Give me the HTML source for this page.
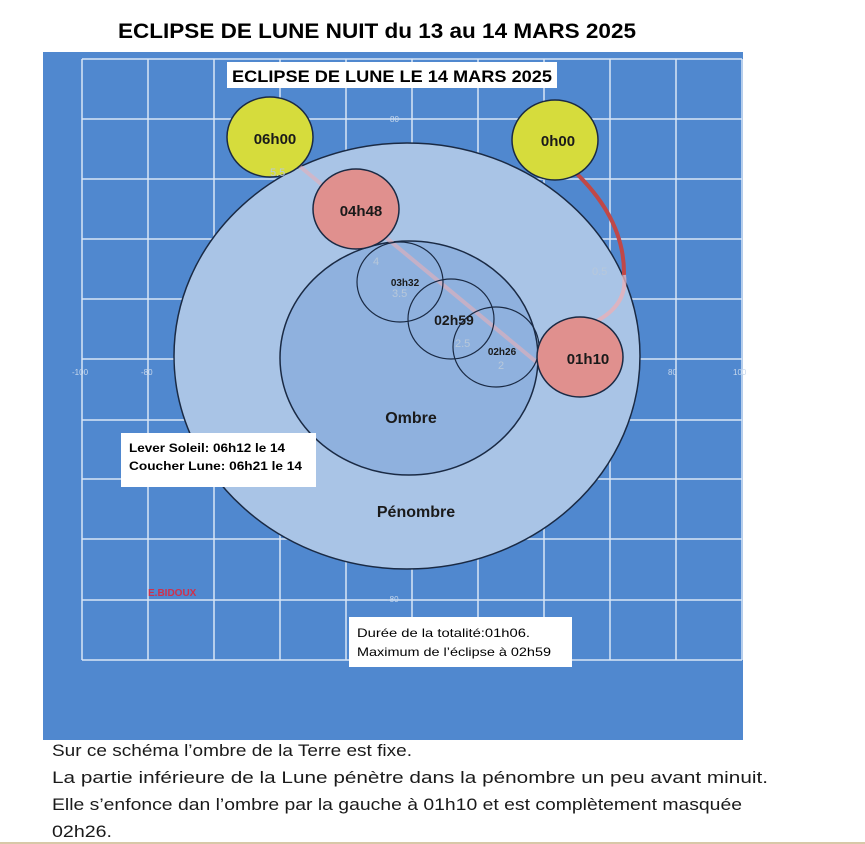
<!DOCTYPE html>
<html><head><meta charset="utf-8"><style>
html,body{margin:0;padding:0;background:#fff;}
svg{display:block;font-family:"Liberation Sans",sans-serif;}
</style></head><body>
<svg width="865" height="844" viewBox="0 0 865 844" xmlns="http://www.w3.org/2000/svg">
<rect width="865" height="844" fill="#fff"/>
<text x="377" y="38" text-anchor="middle" font-size="21" font-weight="bold" textLength="518" lengthAdjust="spacingAndGlyphs">ECLIPSE DE LUNE  NUIT du 13 au 14 MARS 2025</text>
<rect x="43" y="52" width="700" height="688" fill="#5088cf"/>
<g stroke="#d8e6f6" stroke-width="1.5" fill="none">
<path d="M82 59V660M148 59V660M214 59V660M280 59V660M346 59V660M412 59V660M478 59V660M544 59V660M610 59V660M676 59V660M742 59V660"/>
<path d="M82 59H742M82 119H742M82 179H742M82 239H742M82 299H742M82 359H742M82 420H742M82 479H742M82 539H742M82 600H742M82 660H742"/>
</g>
<g font-size="8" fill="#c8d8ec">
<text x="72" y="375">-100</text><text x="141" y="375">-80</text><text x="668" y="375">80</text><text x="733" y="375">100</text>
<text x="390" y="122">80</text><text x="387" y="602">-80</text>
</g>
<ellipse cx="407" cy="356" rx="233" ry="213" fill="#a9c4e6" stroke="#1a2a44" stroke-width="1.5"/>
<ellipse cx="409" cy="358" rx="129" ry="117" fill="#8fb1de" stroke="#1a2a44" stroke-width="1.5"/>
<path d="M280 150 L540 365" stroke="#e8b0b8" stroke-width="4" opacity="0.6"/>
<path d="M575 172 Q625 220 624 275" stroke="#c04848" stroke-width="4" fill="none"/>
<path d="M624 275 Q628 305 595 322" stroke="#e8b0b8" stroke-width="4" fill="none" opacity="0.8"/>
<g fill="none" stroke="#1a2a44" stroke-width="1.2">
<ellipse cx="400" cy="282" rx="43" ry="40"/>
<ellipse cx="451" cy="319" rx="43" ry="40"/>
<ellipse cx="496" cy="347" rx="43" ry="40"/>
</g>
<g stroke="#1a2a44" stroke-width="1.5">
<ellipse cx="270" cy="137" rx="43" ry="40" fill="#d6dc3c"/>
<ellipse cx="555" cy="140" rx="43" ry="40" fill="#d6dc3c"/>
<ellipse cx="356" cy="209" rx="43" ry="40" fill="#e0908e"/>
<ellipse cx="580" cy="357" rx="43" ry="40" fill="#e0908e"/>
</g>
<g font-size="11" fill="#b8c8da"><text x="270" y="176">5.5</text><text x="373" y="265">4</text><text x="392" y="297">3.5</text><text x="455" y="347">2.5</text><text x="498" y="369">2</text><text x="592" y="275">0.5</text></g>
<g font-weight="bold" fill="#1a1a1a" text-anchor="middle">
<text x="275" y="144" font-size="15">06h00</text>
<text x="558" y="146" font-size="15">0h00</text>
<text x="361" y="216" font-size="15">04h48</text>
<text x="588" y="364" font-size="15">01h10</text>
<text x="405" y="286" font-size="10">03h32</text>
<text x="454" y="325" font-size="14">02h59</text>
<text x="502" y="355" font-size="10">02h26</text>
<text x="411" y="423" font-size="16">Ombre</text>
<text x="416" y="517" font-size="16">Pénombre</text>
</g>
<rect x="227" y="62" width="330" height="26" fill="#fff"/>
<text x="392" y="82" text-anchor="middle" font-size="17" font-weight="bold" textLength="320" lengthAdjust="spacingAndGlyphs">ECLIPSE DE LUNE LE 14 MARS 2025</text>
<rect x="121" y="433" width="195" height="54" fill="#fff"/>
<text x="129" y="452" font-size="12" font-weight="bold" textLength="156" lengthAdjust="spacingAndGlyphs">Lever Soleil: 06h12 le 14</text>
<text x="129" y="470" font-size="12" font-weight="bold" textLength="173" lengthAdjust="spacingAndGlyphs">Coucher Lune: 06h21 le 14</text>
<text x="148" y="596" font-size="10" font-weight="bold" fill="#d0304c">E.BIDOUX</text>
<rect x="349" y="617" width="223" height="50" fill="#fff"/>
<text x="357" y="637" font-size="12" textLength="173" lengthAdjust="spacingAndGlyphs">Durée de la totalité:01h06.</text>
<text x="357" y="656" font-size="12" textLength="194" lengthAdjust="spacingAndGlyphs">Maximum de l’éclipse à 02h59</text>
<g font-size="17" fill="#1a1a1a">
<text x="52" y="756" textLength="360" lengthAdjust="spacingAndGlyphs">Sur ce schéma l’ombre de la Terre est fixe.</text>
<text x="52" y="783" textLength="716" lengthAdjust="spacingAndGlyphs">La partie inférieure de la Lune pénètre dans la pénombre un peu avant minuit.</text>
<text x="52" y="810" textLength="690" lengthAdjust="spacingAndGlyphs">Elle s’enfonce dan l’ombre par la gauche à 01h10 et est complètement masquée</text>
<text x="52" y="837" textLength="60" lengthAdjust="spacingAndGlyphs">02h26.</text>
</g>
<rect x="0" y="842" width="865" height="2" fill="#d8c8a8"/>
</svg>
</body></html>
